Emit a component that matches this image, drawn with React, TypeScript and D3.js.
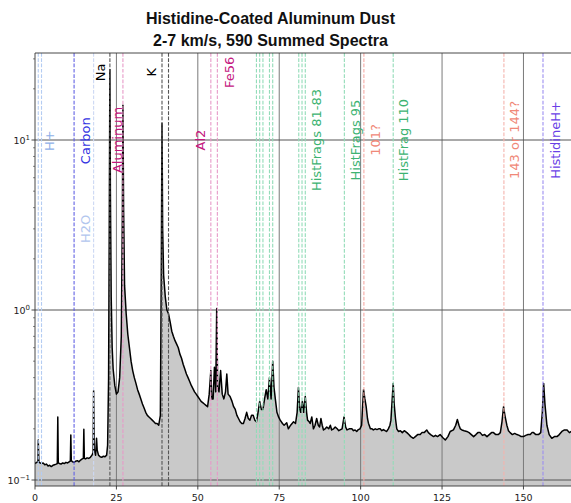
import React from 'react';
import * as d3 from 'd3';

// ---- data ----
const massValues = [
  0, 0.5, 0.9, 1.0, 1.2, 2, 2.5, 3, 3.5, 4, 4.5, 5, 5.5, 6, 6.5, 6.85, 7.0, 7.15, 7.5, 8, 8.5, 9, 9.5, 10, 10.5, 10.85, 11.0, 11.15, 11.5, 12, 12.5, 13, 13.5, 14, 14.5, 14.85, 15.0, 15.15, 15.5, 16, 16.5, 17, 17.5, 17.85, 18.0, 18.2, 18.6, 18.9, 19.1, 19.5, 20, 20.5, 21, 21.5, 22, 22.3, 22.6, 22.85, 23.0, 23.15, 23.4, 23.7, 24, 24.5, 25, 25.5, 26, 26.5, 26.85, 27.0, 27.2, 27.5, 28, 28.5, 29, 29.5, 30, 30.5, 31, 31.5, 32, 32.5, 33, 33.5, 34, 34.5, 35, 35.5, 36, 36.5, 37, 37.5, 38, 38.5, 38.8, 39.0, 39.2, 39.5, 40, 40.5, 41, 41.5, 42, 42.5, 43, 43.5, 44, 44.5, 45, 45.5, 46, 46.5, 47, 47.5, 48, 48.5, 49, 49.5, 50, 50.5, 51, 51.5, 52, 52.5, 53, 53.5, 54, 54.3, 54.7, 55.1, 55.5, 55.8, 56.1, 56.5, 57, 57.5, 58, 58.5, 58.9, 59.3, 59.9, 60.5, 61, 61.5, 62, 62.5, 63, 63.5, 64, 64.5, 65, 65.5, 66, 66.5, 67, 67.5, 68, 68.5, 69, 69.5, 70, 70.5, 71, 71.5, 72, 72.5, 73, 73.4, 73.8, 74.3, 74.8, 75.3, 76, 76.5, 77.3, 77.8, 78.5, 79.4, 80, 80.5, 80.9, 81.3, 81.6, 82.1, 82.5, 83, 83.4, 83.7, 84.2, 84.5, 85, 85.5, 86, 86.5, 87, 87.4, 87.8, 88.2, 88.6, 89.1, 89.6, 90.2, 90.7, 91.1, 91.7, 92.2, 92.8, 93.3, 93.7, 94.3, 94.9, 95.4, 95.8, 96.5, 97.3, 97.8, 98.3, 98.8, 99.3, 99.8, 100.3, 100.6, 100.9, 101.3, 101.7, 102.1, 102.4, 103, 103.5, 103.9, 104.5, 105, 105.5, 106, 106.5, 107, 107.5, 108, 108.5, 109, 109.3, 109.7, 110.0, 110.3, 110.7, 111.1, 111.6, 112.2, 112.8, 113.4, 114.2, 114.8, 115.4, 116.2, 116.8, 117.5, 118.3, 118.8, 119.5, 120.3, 120.8, 121.5, 122.4, 123, 123.6, 124.4, 125.2, 126, 126.8, 127.5, 128.5, 129.2, 129.7, 130.2, 130.6, 131.1, 131.8, 132.6, 133.3, 134, 134.7, 135.4, 136, 136.7, 137.4, 138.1, 138.8, 139.5, 140.2, 140.8, 141.5, 142.3, 142.9, 143.4, 143.9, 144.3, 144.9, 145.4, 145.9, 146.6, 147.3, 148, 148.7, 149.3, 150, 150.7, 151.4, 152.1, 152.6, 153.1, 153.8, 154.6, 155.3, 155.8, 156.2, 156.6, 157.2, 157.9, 158.7, 159.5, 160.3, 161, 161.8, 162.6, 163.4, 164.1, 164.7,
];
const intensityValues = [
  0.125, 0.127, 0.128, 0.172, 0.127, 0.125, 0.126, 0.123, 0.124, 0.121, 0.122, 0.12, 0.122, 0.123, 0.124, 0.125, 0.235, 0.126, 0.125, 0.124, 0.126, 0.125, 0.127, 0.126, 0.128, 0.129, 0.184, 0.13, 0.128, 0.127, 0.129, 0.13, 0.128, 0.131, 0.133, 0.134, 0.199, 0.134, 0.133, 0.135, 0.134, 0.136, 0.14, 0.145, 0.335, 0.15, 0.14, 0.176, 0.15, 0.14, 0.137, 0.136, 0.138, 0.137, 0.14, 0.16, 0.4, 5, 26, 5, 1.2, 0.6, 0.45, 0.36, 0.32, 0.33, 0.4, 0.7, 4, 16, 4, 1.4, 0.95, 0.72, 0.6, 0.5, 0.44, 0.4, 0.37, 0.34, 0.32, 0.3, 0.28, 0.265, 0.25, 0.24, 0.235, 0.23, 0.225, 0.22, 0.215, 0.215, 0.21, 0.24, 2, 12.5, 3, 1.6, 1.2, 1.0, 0.95, 0.85, 0.75, 0.7, 0.66, 0.63, 0.6, 0.55, 0.52, 0.48, 0.45, 0.42, 0.4, 0.38, 0.36, 0.345, 0.33, 0.32, 0.31, 0.3, 0.29, 0.285, 0.28, 0.275, 0.27, 0.32, 0.44, 0.3, 0.3, 0.46, 0.33, 1.02, 0.35, 0.33, 0.44, 0.32, 0.3, 0.33, 0.42, 0.32, 0.31, 0.29, 0.27, 0.26, 0.24, 0.23, 0.22, 0.215, 0.215, 0.23, 0.25, 0.23, 0.225, 0.24, 0.24, 0.225, 0.22, 0.25, 0.29, 0.26, 0.26, 0.3, 0.34, 0.3, 0.4, 0.3, 0.5, 0.35, 0.3, 0.25, 0.235, 0.225, 0.215, 0.21, 0.217, 0.2, 0.21, 0.22, 0.215, 0.25, 0.35, 0.26, 0.25, 0.29, 0.25, 0.31, 0.25, 0.225, 0.22, 0.215, 0.235, 0.2, 0.21, 0.23, 0.21, 0.205, 0.23, 0.21, 0.197, 0.2, 0.205, 0.2, 0.21, 0.197, 0.2, 0.205, 0.2, 0.195, 0.197, 0.2, 0.235, 0.205, 0.197, 0.2, 0.2, 0.195, 0.197, 0.193, 0.198, 0.2, 0.21, 0.27, 0.34, 0.3, 0.27, 0.23, 0.216, 0.2, 0.2, 0.197, 0.2, 0.198, 0.2, 0.2, 0.195, 0.198, 0.195, 0.193, 0.2, 0.21, 0.225, 0.3, 0.37, 0.28, 0.23, 0.2, 0.193, 0.195, 0.19, 0.195, 0.19, 0.185, 0.18, 0.176, 0.18, 0.185, 0.185, 0.19, 0.19, 0.197, 0.19, 0.185, 0.18, 0.183, 0.18, 0.185, 0.178, 0.172, 0.18, 0.193, 0.197, 0.21, 0.227, 0.21, 0.2, 0.197, 0.195, 0.193, 0.19, 0.185, 0.18, 0.185, 0.19, 0.19, 0.183, 0.185, 0.18, 0.185, 0.19, 0.19, 0.185, 0.185, 0.19, 0.22, 0.27, 0.24, 0.21, 0.195, 0.19, 0.185, 0.188, 0.185, 0.183, 0.18, 0.18, 0.183, 0.185, 0.185, 0.19, 0.19, 0.185, 0.185, 0.19, 0.25, 0.37, 0.28, 0.21, 0.185, 0.176, 0.18, 0.18, 0.185, 0.193, 0.197, 0.197, 0.19, 0.193,
];

const xTicks = [0, 25, 50, 75, 100, 125, 150];
const yTicks = [0.1, 1, 10];
const yTickExponents = ['\u22121', '0', '1'];

// marker groups: vertical dashed lines, each with its own label
const markerKeys = ['H', 'Carbon', 'H2O', 'Na', 'Al', 'K', 'Al2', 'Fe56', 'Hist68', 'Hist81', 'Hist95', 'U101', 'Hist110', 'U144', 'HisH'];
const markerMasses = [[1, 2], [12], [18], [23], [27], [39, 41], [54], [56], [68, 69, 70, 72, 73], [81, 82, 83], [95], [101], [110], [144], [156]];
const markerLabels = ['H+', 'Carbon', 'H2O', 'Na', 'Aluminum', 'K', 'Al2', 'Fe56', '', 'HistFrags 81-83', 'HistFrags 95', '101?', 'HistFrag 110', '143 or 144?', 'HistidineH+'];
const labelMass = [4.6, 15.4, 15.4, 20.0, 25.2, 35.9, 50.9, 59.6, 0, 86.3, 98.3, 104.5, 113.1, 147.2, 159.8];
const labelIntensity = [9.9, 9.9, 3.0, 25, 10, 25, 10, 25, 10, 10, 10, 10, 10, 10, 10];

const titleLines = ['Histidine-Coated Aluminum Dust', '2-7 km/s, 590 Summed Spectra'];

// ---- styles ----
const lineColor: Record<string, string> = {
  H: '#b4ccf2', Carbon: '#6262e4', H2O: '#ccd8f4', Na: '#555555', Al: '#e79ac8', K: '#555555',
  Al2: '#e79ac8', Fe56: '#e79ac8', Hist68: '#92dcb8', Hist81: '#92dcb8', Hist95: '#92dcb8',
  U101: '#f5aaa4', Hist110: '#92dcb8', U144: '#f5b4ae', HisH: '#9d8ff0',
};
const textColor: Record<string, string> = {
  H: '#8fb0e8', Carbon: '#3434e2', H2O: '#b2c6ee', Na: '#000000', Al: '#c4177f', K: '#000000',
  Al2: '#c4177f', Fe56: '#c4177f', Hist68: '#3cb371', Hist81: '#3cb371', Hist95: '#3cb371',
  U101: '#f08878', Hist110: '#3cb371', U144: '#f08878', HisH: '#6a3fe6',
};

const W = 571;
const H = 503;
const left = 35;
const right = 571;
const top = 53;
const bottom = 486;

export default function App() {
  const x = d3.scaleLinear().domain([0, 164.6]).range([left, right]);
  const y = d3.scaleLog().domain([Math.pow(10, -1 - 6 / 170), Math.pow(10, 1 + 87 / 170)]).range([bottom, top]);

  const pts: [number, number][] = massValues.map((m, i) => [m, intensityValues[i]]);
  const line = d3.line<[number, number]>().x(d => x(d[0])).y(d => y(d[1]));
  const area = d3.area<[number, number]>().x(d => x(d[0])).y0(bottom + 5).y1(d => y(d[1]));

  const minorTicks: number[] = [];
  for (let e = -2; e <= 1; e++) {
    for (let k = 2; k <= 9; k++) {
      const v = k * Math.pow(10, e);
      const [d0, d1] = y.domain();
      if (v > d0 && v < d1) minorTicks.push(v);
    }
  }

  const font = 'DejaVu Sans, sans-serif';

  return (
    <svg width={W} height={H} style={{ position: 'absolute', left: 0, top: 0, background: '#fff' }} xmlns="http://www.w3.org/2000/svg">
      <defs>
        <clipPath id="plot">
          <rect x={left} y={top} width={right - left} height={bottom - top} />
        </clipPath>
      </defs>
      <rect x={0} y={0} width={W} height={H} fill="#fff" />
      <g clipPath="url(#plot)">
        <path d={area(pts) || ''} fill="#c9c9c9" />
        {xTicks.filter(t => t > 0).map(t => (
          <line key={'gx' + t} x1={x(t)} x2={x(t)} y1={top} y2={bottom} stroke="#7a7a7a" strokeWidth={1} />
        ))}
        {yTicks.map(t => (
          <line key={'gy' + t} x1={left} x2={right} y1={y(t)} y2={y(t)} stroke="#555" strokeWidth={1} />
        ))}
        <path d={line(pts) || ''} fill="none" stroke="#000" strokeWidth={1.5} strokeLinejoin="round" />
        {markerKeys.map((k, gi) =>
          markerMasses[gi].map(m => (
            <line key={k + m} x1={x(m)} x2={x(m)} y1={top} y2={bottom} stroke={lineColor[k]} strokeWidth={1.1} strokeDasharray="3.7 1.6" />
          ))
        )}
        {markerKeys.map((k, gi) =>
          markerLabels[gi] ? (
            <text
              key={'lab' + k}
              transform={`translate(${x(labelMass[gi])},${y(labelIntensity[gi])}) rotate(-90)`}
              textAnchor="middle"
              dominantBaseline="central"
              fontFamily={font}
              fontSize={13}
              fill={textColor[k]}
            >
              {markerLabels[gi]}
            </text>
          ) : null
        )}
      </g>
      {/* spines */}
      <line x1={left} x2={right} y1={top} y2={top} stroke="#333" strokeWidth={0.9} />
      <line x1={left} x2={left} y1={top} y2={bottom} stroke="#333" strokeWidth={0.9} />
      <line x1={left} x2={right} y1={bottom} y2={bottom} stroke="#333" strokeWidth={0.9} />
      {/* x ticks */}
      {xTicks.map(t => (
        <g key={'xt' + t}>
          <line x1={x(t)} x2={x(t)} y1={bottom} y2={bottom + 3.5} stroke="#333" strokeWidth={0.9} />
          <text x={x(t)} y={501} textAnchor="middle" fontFamily={font} fontSize={9.5} fill="#222">{t}</text>
        </g>
      ))}
      {/* y ticks */}
      {yTicks.map((t, i) => (
        <g key={'yt' + t}>
          <line x1={left - 3.5} x2={left} y1={y(t)} y2={y(t)} stroke="#333" strokeWidth={0.9} />
          <text x={left - 5} y={y(t) + 3.5} textAnchor="end" fontFamily={font} fontSize={9.5} fill="#222">
            10<tspan dy={-4} fontSize={7}>{yTickExponents[i]}</tspan>
          </text>
        </g>
      ))}
      {minorTicks.map(t => (
        <line key={'ym' + t} x1={left - 2} x2={left} y1={y(t)} y2={y(t)} stroke="#333" strokeWidth={0.6} />
      ))}
      {/* title */}
      {titleLines.map((s, i) => (
        <text key={'t' + i} x={270.5} y={24 + i * 21.5} textAnchor="middle" fontFamily="Liberation Sans, Arial, sans-serif" fontWeight="bold" fontSize={16} fill="#111">
          {s}
        </text>
      ))}
    </svg>
  );
}
